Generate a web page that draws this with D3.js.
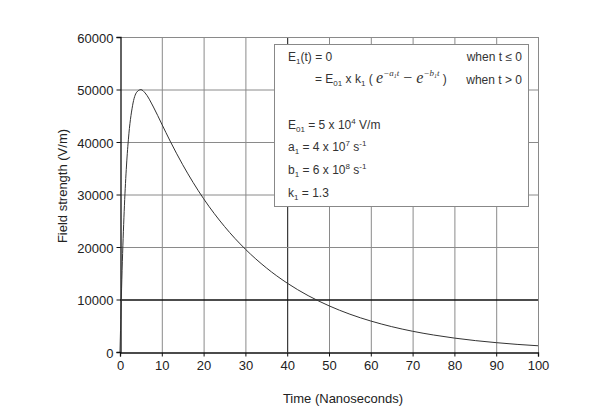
<!DOCTYPE html>
<html><head><meta charset="utf-8">
<script src="https://cdn.jsdelivr.net/npm/d3@7"></script>
<style>body{margin:0;background:#fff}svg{display:block}text{font-family:"Liberation Sans",Arial,sans-serif}</style>
</head><body><svg id="c" width="604" height="415"></svg>
<script>
// Time (ns) and field strength (V/m)
const timeNs = [0,0.5,1,1.5,2,3,4,5,6,8,10,12,15,20,25,30,35,40,45,50,55,60,65,70,75,80,85,90,95,100];
const fieldVm = [0,15560,26780,34790,40420,46900,49490,49980,49350,46660,43410,40170,35670,29200,23910,19580,16030,13120,10740,8800,7200,5900,4830,3950,3240,2650,2170,1780,1450,1190];
const xTicks = [0,10,20,30,40,50,60,70,80,90,100];
const yTicks = [0,10000,20000,30000,40000,50000,60000];
const xTitle = "Time (Nanoseconds)";
const yTitle = "Field strength (V/m)";

const svg = d3.select("#c");
const L=120,R=538,T=37,B=352;
const x = d3.scaleLinear().domain([0,100]).range([L,R]);
const y = d3.scaleLinear().domain([0,60000]).range([B,T]);

// grid
const g = svg.append("g");
g.selectAll("line.v").data(xTicks.filter(d=>d>0)).join("line")
 .attr("x1",d=>x(d)+0.5).attr("x2",d=>x(d)+0.5).attr("y1",T).attr("y2",B)
 .attr("stroke",d=>d===40?"#111":"#8a8a8a").attr("stroke-width",1);
g.selectAll("line.h").data(yTicks.filter(d=>d>0)).join("line")
 .attr("x1",L).attr("x2",R).attr("y1",d=>y(d)+0.5).attr("y2",d=>y(d)+0.5)
 .attr("stroke",d=>d===10000?"#111":"#8a8a8a").attr("stroke-width",d=>d===10000?1.3:1);

// axes
const xAxis = d3.axisBottom(x).tickValues(xTicks).tickSize(4).tickPadding(4).tickFormat(d3.format("d"));
const yAxis = d3.axisLeft(y).tickValues(yTicks).tickSize(4).tickPadding(3).tickFormat(d3.format("d"));
const gx = svg.append("g").attr("transform",`translate(0,${B+0.5})`).call(xAxis);
const gy = svg.append("g").attr("transform",`translate(${L+0.5},0)`).call(yAxis);
[gx,gy].forEach(a=>{a.select(".domain").attr("stroke","#111").attr("stroke-width",1.3);
 a.selectAll(".tick line").attr("stroke","#111");
 a.selectAll(".tick text").attr("font-size",13).attr("fill","#222").attr("font-family","Liberation Sans, Arial, sans-serif");});
gy.selectAll(".tick text").attr("dy","0.4em");

// curve
svg.append("path").datum(fieldVm.map((v,i)=>[timeNs[i],v]))
 .attr("d",d3.line().x(d=>x(d[0])).y(d=>y(d[1])).curve(d3.curveMonotoneX))
 .attr("fill","none").attr("stroke","#333").attr("stroke-width",1);

// titles
svg.append("text").attr("x",343).attr("y",403).attr("text-anchor","middle").attr("font-size",13).attr("fill","#222").text(xTitle);
svg.append("text").attr("transform","translate(67,186) rotate(-90)").attr("text-anchor","middle").attr("font-size",13).attr("fill","#222").text(yTitle);

// annotation box
svg.append("rect").attr("x",274.5).attr("y",44.5).attr("width",254).attr("height",162)
 .attr("fill","#fff").attr("stroke","#888").attr("stroke-width",1);
const fs=12, col="#333";
function sub(t,base,s){ t.append("tspan").text(base); t.append("tspan").attr("font-size",8).attr("dy",3).text(s); t.append("tspan").attr("dy",-3).text(""); }
let t = svg.append("text").attr("x",288).attr("y",61).attr("font-size",fs).attr("fill",col);
t.append("tspan").text("E"); t.append("tspan").attr("font-size",8).attr("dy",3).text("1"); t.append("tspan").attr("dy",-3).text("(t) = 0");
svg.append("text").attr("x",522).attr("y",61).attr("text-anchor","end").attr("font-size",fs).attr("fill",col).text("when t ≤ 0");
t = svg.append("text").attr("x",315).attr("y",83).attr("font-size",fs).attr("fill",col);
t.append("tspan").text("= E"); t.append("tspan").attr("font-size",8).attr("dy",3).text("01");
t.append("tspan").attr("dy",-3).text(" x k"); t.append("tspan").attr("font-size",8).attr("dy",3).text("1");
t.append("tspan").attr("dy",-3).text(" ( ");
const serif="Liberation Serif, DejaVu Serif, serif";
t.append("tspan").attr("font-family",serif).attr("font-style","italic").attr("font-size",16).text("e");
t.append("tspan").attr("font-family",serif).attr("font-style","italic").attr("font-size",9).attr("dy",-7).text("−a");
t.append("tspan").attr("font-family",serif).attr("font-style","italic").attr("font-size",6).attr("dy",2).text("1");
t.append("tspan").attr("font-family",serif).attr("font-style","italic").attr("font-size",9).attr("dy",-2).text("t");
t.append("tspan").attr("font-family",serif).attr("font-size",16).attr("dy",7).text(" − ");
t.append("tspan").attr("font-family",serif).attr("font-style","italic").attr("font-size",16).text("e");
t.append("tspan").attr("font-family",serif).attr("font-style","italic").attr("font-size",9).attr("dy",-7).text("−b");
t.append("tspan").attr("font-family",serif).attr("font-style","italic").attr("font-size",6).attr("dy",2).text("1");
t.append("tspan").attr("font-family",serif).attr("font-style","italic").attr("font-size",9).attr("dy",-2).text("t");
t.append("tspan").attr("dy",7).text("  )");
svg.append("text").attr("x",522).attr("y",84).attr("text-anchor","end").attr("font-size",fs).attr("fill",col).text("when t > 0");

function paramLine(yy, base, subs, rest, supTxt, tail){
  const tt = svg.append("text").attr("x",288).attr("y",yy).attr("font-size",fs).attr("fill",col);
  tt.append("tspan").text(base);
  tt.append("tspan").attr("font-size",8).attr("dy",3).text(subs);
  tt.append("tspan").attr("dy",-3).text(rest);
  if(supTxt){ tt.append("tspan").attr("font-size",8).attr("dy",-5).text(supTxt);
    tt.append("tspan").attr("dy",5).text(tail); }
}
paramLine(129,"E","01"," = 5 x 10","4"," V/m");
svg.append("text"); 
// a1, b1 with s^-1
function rateLine(yy, base, num, exp){
  const tt = svg.append("text").attr("x",288).attr("y",yy).attr("font-size",fs).attr("fill",col);
  tt.append("tspan").text(base);
  tt.append("tspan").attr("font-size",8).attr("dy",3).text("1");
  tt.append("tspan").attr("dy",-3).text(" = "+num+" x 10");
  tt.append("tspan").attr("font-size",8).attr("dy",-5).text(exp);
  tt.append("tspan").attr("dy",5).text(" s");
  tt.append("tspan").attr("font-size",8).attr("dy",-5).text("-1");
}
rateLine(151,"a","4","7");
rateLine(174,"b","6","8");
paramLine(197,"k","1"," = 1.3");
</script></body></html>
